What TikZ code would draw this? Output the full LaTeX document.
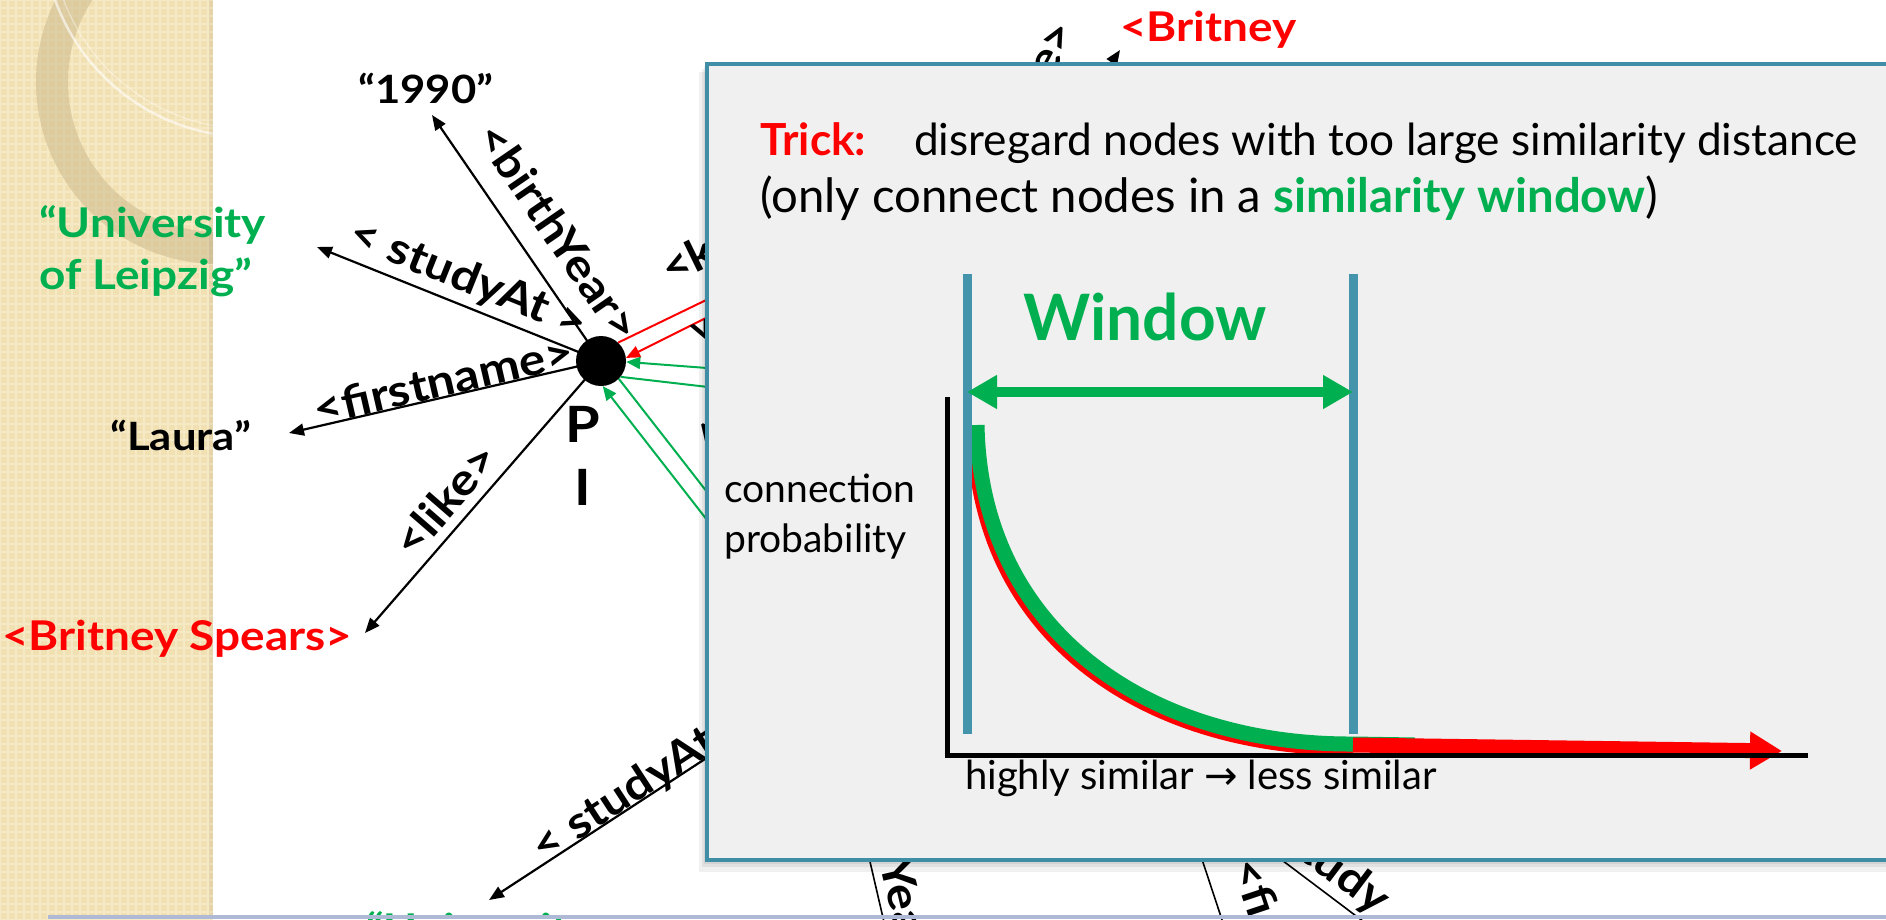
\documentclass[tikz,border=0pt]{standalone}
\usepackage{fontspec}
\setmainfont{Lato}
\newfontfamily\lbl{Lato}[FakeStretch=1.12]
\newfontfamily\arrowfont{DejaVu Sans}
\usetikzlibrary{arrows.meta}
\definecolor{myred}{HTML}{FF0000}
\definecolor{mygreen}{HTML}{00B050}
\definecolor{tealline}{HTML}{4494AC}
\definecolor{boxline}{HTML}{3F8EA6}
\definecolor{boxfill}{HTML}{F0F0F0}
\definecolor{beige}{HTML}{F1E0B2}
\definecolor{beigelight}{HTML}{F6E9C6}
\definecolor{ringc}{HTML}{CDBB8E}
\definecolor{barc}{HTML}{AEB9D6}
\begin{document}
\begin{tikzpicture}[x=1pt,y=-1pt,
  lab/.style={font=\lbl\bfseries\fontsize{39}{50}\selectfont, inner sep=0},
  labb/.style={font=\lbl\bfseries\fontsize{41}{52}\selectfont, inner sep=0},
  elab/.style={font=\lbl\bfseries\fontsize{44}{50}\selectfont, inner sep=0},
  blk/.style={line width=2.2pt, -{Triangle[length=15pt,width=12pt]}},
  thinblk/.style={line width=1.6pt},
  redl/.style={myred, line width=2pt},
  grnl/.style={mygreen, line width=2pt},
  tipr/.style={-{Triangle[length=14pt,width=12pt]}},
  boxtxt/.style={font=\fontsize{44.2}{55}\selectfont, inner sep=0, anchor=base west},
  axtxt/.style={font=\fontsize{39}{48}\selectfont, inner sep=0, anchor=base west}]
\useasboundingbox (0,0) rectangle (1886,919);
\fill[white] (0,0) rectangle (1886,919);
% ---- beige side strip
\fill[beige] (0,0) rectangle (213,919);
\begin{scope}
  \clip (0,0) rectangle (213,919);
  \foreach \i in {0,8,...,216} \draw[beigelight, line width=2pt] (\i,0) -- (\i,919);
  \foreach \j in {0,8,...,920} \draw[beigelight, line width=2pt] (0,\j) -- (213,\j);
  \fill[ringc, opacity=0.55, even odd rule] (218,82) circle (182pt) (218,82) circle (150pt);
  \draw[white, opacity=0.6, line width=2.5pt] (250,-70) circle (207pt);
  \draw[white, opacity=0.4, line width=1.2pt] (250,-70) circle (199pt);
\end{scope}
\fill[black, opacity=0.05] (209,0) rectangle (213,919);

% ---- hub and its visible neighbours
\node[circle, fill=black, minimum size=50pt, inner sep=0] (hub) at (601,361) {};
\node[lab, anchor=base west] (n1990) at (358,103) {“1990”};
\node[labb, anchor=north west, text=mygreen, align=left] (nuni) at (39,205) {“University\\of Leipzig”};
\node[lab, anchor=base west] (nlaura) at (110,450) {“Laura”};
\node[labb, anchor=base west, text=myred] (nbrit) at (2,650) {<Britney Spears>};
\node[font=\lbl\bfseries\fontsize{50}{54}\selectfont, inner sep=0] (pP) at (583,424) {P};
\node[font=\lbl\bfseries\fontsize{50}{54}\selectfont, inner sep=0] (pI) at (583,487) {I};

\coordinate (t1990) at (432,115);
\coordinate (tuni) at (317,247);
\coordinate (tlaura) at (289,433);
\coordinate (tbrit) at (365,633);
\draw[blk] (hub.center) -- (t1990);
\draw[blk] (hub.center) -- (tuni);
\draw[blk] (hub.center) -- (tlaura);
\draw[blk] (hub.center) -- (tbrit);
\node[elab, rotate=-55.5] (lbirth) at (559,232) {<birthYear>};
\node[elab, rotate=-21.9] (lstudy) at (468,280) {< studyAt >};
\node[elab, rotate=13] (lfirst) at (443,380) {<firstname>};
\node[elab, rotate=49] (llike) at (445,500) {<like>};

% ---- edges from nodes hidden behind the box
\coordinate (hr1) at (760,274);
\coordinate (hr2) at (760,291);
\coordinate (hg1) at (760,372);
\coordinate (hg2) at (760,393);
\coordinate (hg3) at (760,560);
\coordinate (hg4) at (760,588);
\draw[redl] (hr1) -- (hub.47);
\draw[redl, tipr] (hr2) -- (hub.7);
\draw[grnl, tipr] (hg1) -- (hub.-2);
\draw[grnl] (hg2) -- (hub.-39);
\draw[grnl] (hg3) -- (hub.-45);
\draw[grnl, tipr] (hg4) -- (hub.-86);
\node[elab, rotate=26, anchor=base west] (lk) at (670,286) {<k};
\node[elab, rotate=-65] (lgt) at (701,331) {>};
\node[elab, rotate=-52, anchor=base west] (ln) at (688,430) {<};

% bottom-left studyAt
\coordinate (hs1) at (780,710);
\coordinate (tuni2) at (489,900);
\draw[blk] (hs1) -- (tuni2);
\node[elab, rotate=33.1, anchor=base west] (lstudy2) at (543,864) {< studyAt};
\node[labb, anchor=base west, text=mygreen] (nuni2) at (366,943) {“University};

% bottom fragments
\coordinate (hy1) at (858,810); \coordinate (hy2) at (887,935);
\draw[thinblk] (hy1) -- (hy2);
\node[elab, rotate=-76.7, anchor=base west] (lyea) at (879,862) {Yea};
\coordinate (hf1) at (1189,820); \coordinate (hf2) at (1227,935);
\draw[thinblk] (hf1) -- (hf2);
\node[elab, rotate=-71.6, anchor=base west] (lfi) at (1231,864) {<fi};
\coordinate (hd1) at (1250,836); \coordinate (hd2) at (1380,934);
\draw[thinblk] (hd1) -- (hd2);
\node[elab, rotate=-37, anchor=base west] (ldy) at (1296,856) {tudy};

% top fragments
\coordinate (hb1) at (1080,110); \coordinate (tb) at (1120,50);
\draw[blk] (hb1) -- (tb);
\node[elab, rotate=62, anchor=base east] (llike2) at (1077,31) {<like>};
\node[labb, anchor=north west, text=myred, align=left] (nbrit2) at (1120,11) {<Britney\\Spears>};

% ---- overlay box
\fill[black, opacity=0.06] (699,72) rectangle (1900,872);
\fill[black, opacity=0.06] (702,69) rectangle (1900,867);
\fill[black, opacity=0.06] (704,66) rectangle (1900,864);
\draw[boxline, line width=4pt, fill=boxfill] (707,64) rectangle (1900,860);

\node[boxtxt, text=myred, font=\fontsize{44.2}{55}\selectfont\bfseries] (trick) at (760,155) {Trick:};
\node[boxtxt] (trick2) at (914,155) {disregard nodes with too large similarity distance};
\node[boxtxt, font=\fontsize{47.3}{55}\selectfont] (trick3) at (760,212) {(only connect nodes in a \textcolor{mygreen}{\bfseries similarity window})};

\coordinate (wl1) at (967,274); \coordinate (wl2) at (967,734);
\coordinate (wr1) at (1353,274); \coordinate (wr2) at (1353,734);
\coordinate (ax0) at (947,755); \coordinate (axtop) at (947,397); \coordinate (axend) at (1808,755);
% curves
\draw[myred, line width=15pt] (974,428) .. controls (977,640) and (1150,749) .. (1353,748);
\draw[mygreen, line width=15pt] (977,425) .. controls (981,634) and (1152,745) .. (1353,744) -- (1415,745);
\draw[myred, line width=15pt, -{Triangle[length=32pt,width=36pt]}] (1353,745) -- (1782,751);
% axes
\draw[line width=5pt] (axtop) -- ([yshift=-2.5pt]ax0);
\draw[line width=5pt] ([xshift=-2.5pt]ax0) -- (axend);
% window lines
\draw[tealline, line width=9pt] (wl1) -- (wl2);
\draw[tealline, line width=9pt] (wr1) -- (wr2);
\draw[mygreen, line width=10pt, {Triangle[length=30pt,width=32pt]}-{Triangle[length=30pt,width=32pt]}] (967,392) -- (1353,392);
\node[font=\fontsize{64}{70}\selectfont\bfseries, text=mygreen, anchor=base, inner sep=0] (win) at (1145,340) {Window};

\node[axtxt] (yl1) at (724,502) {connection};
\node[axtxt] (yl2) at (724,552) {probability};
\node[axtxt, font=\fontsize{40}{46}\selectfont] (xl) at (965,789) {highly similar {\arrowfont →} less similar};

% bottom bar
\fill[barc] (48,915) rectangle (1886,919);
\end{tikzpicture}
\end{document}
